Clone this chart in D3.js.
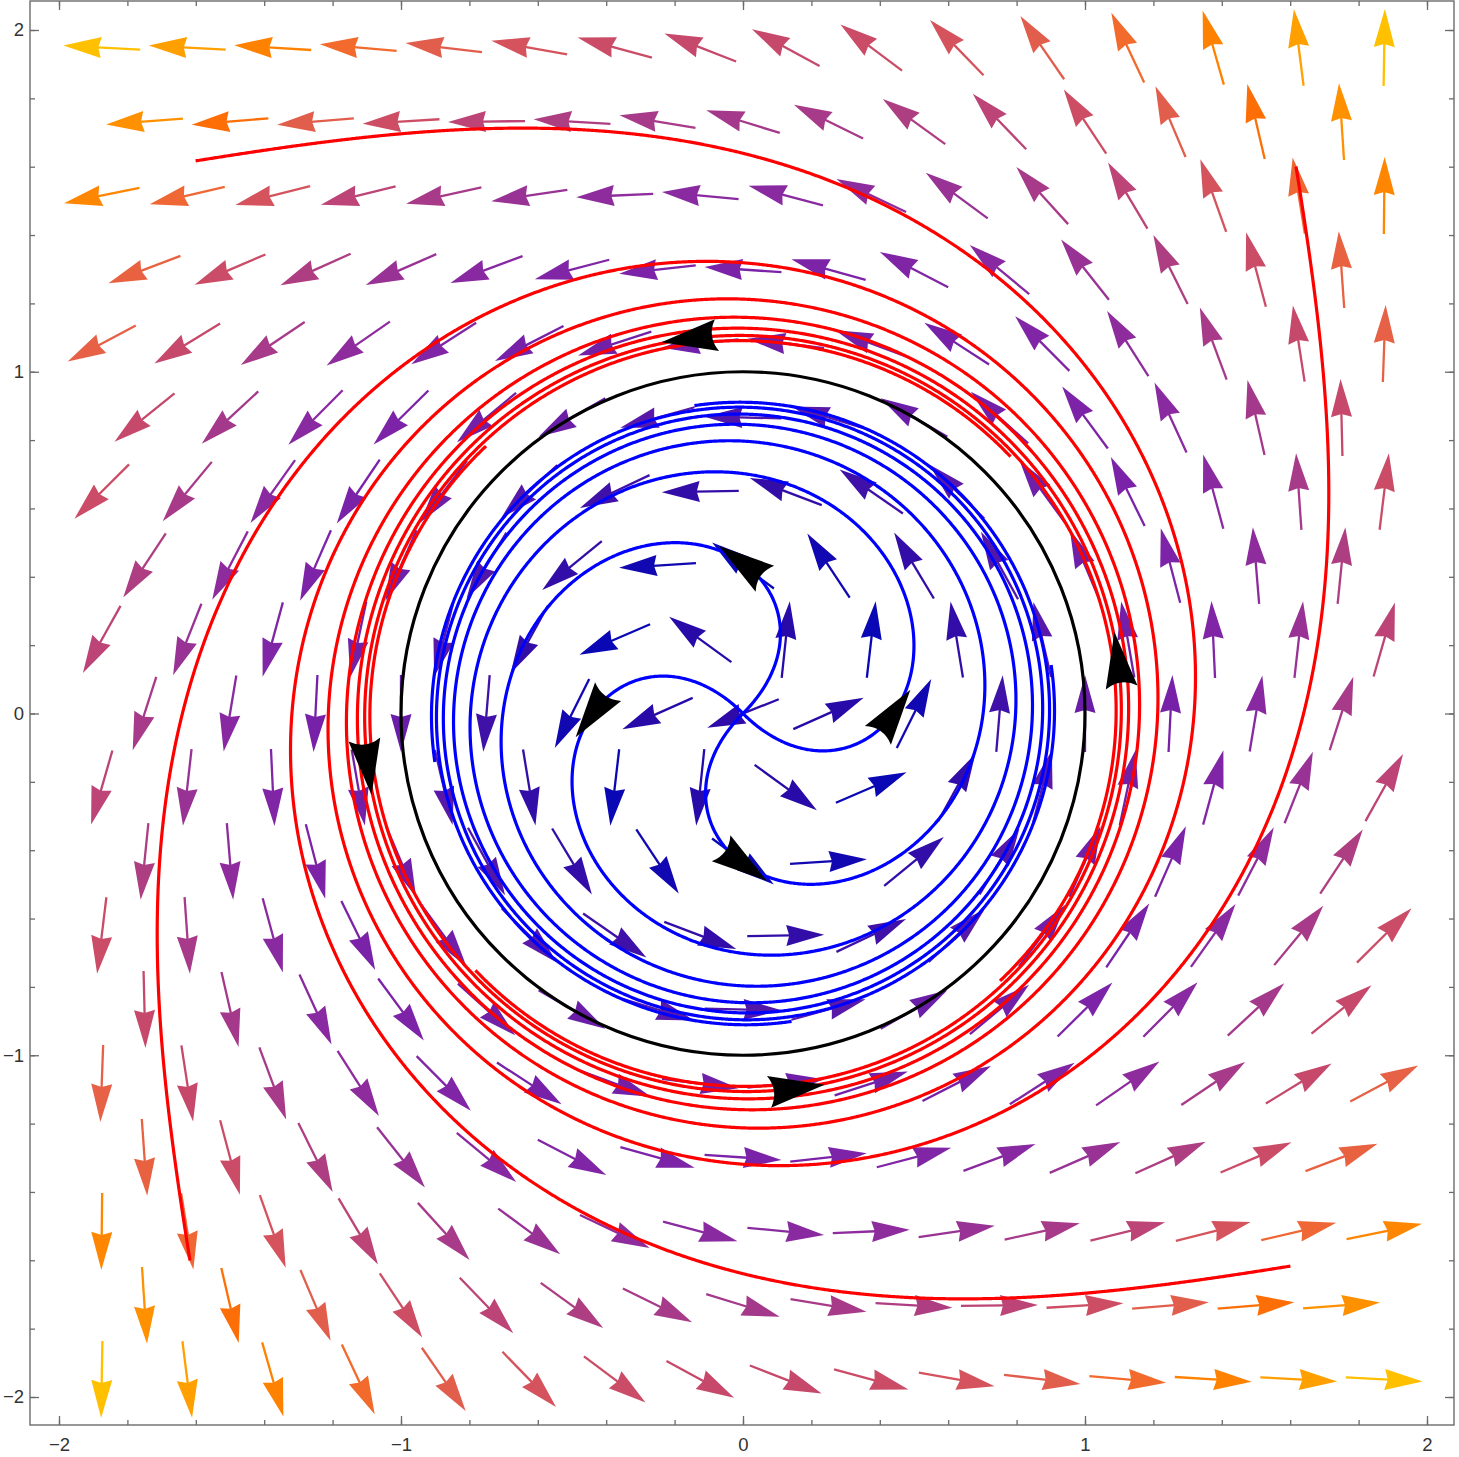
<!DOCTYPE html>
<html>
<head>
<meta charset="utf-8">
<script src="https://cdn.jsdelivr.net/npm/d3@7"></script>
<style>
  body { margin: 0; background: #fff; }
  svg { display: block; }
  .tick text { font-family: "Liberation Sans", Arial, sans-serif; font-size: 18.5px; fill: #333; }
</style>
</head>
<body>
<div id="chart"></div>
<script>
// axis ticks
const MAJOR_TICKS = [-2, -1, 0, 1, 2];
const MINOR_TICKS = [-2, -1.8, -1.6, -1.4, -1.2, -1, -0.8, -0.6, -0.4, -0.2, 0, 0.2, 0.4, 0.6, 0.8, 1, 1.2, 1.4, 1.6, 1.8, 2];

// hexagonal grid of the vector arrows (rows alternate between the two x lists)
const ROW_Y = [1.9486, 1.7321, 1.5155, 1.299, 1.0825, 0.866, 0.6495, 0.433, 0.2165, 0,
               -0.2165, -0.433, -0.6495, -0.866, -1.0825, -1.299, -1.5155, -1.7321, -1.9486];
const EVEN_ROW_X = [-1.875, -1.625, -1.375, -1.125, -0.875, -0.625, -0.375, -0.125,
                    0.125, 0.375, 0.625, 0.875, 1.125, 1.375, 1.625, 1.875];
const ODD_ROW_X = [-1.75, -1.5, -1.25, -1, -0.75, -0.5, -0.25, 0, 0.25, 0.5, 0.75, 1, 1.25, 1.5, 1.75];

// the system: r' = (1 - r)^2, theta' = 1 (semi-stable cycle at r = 1)
const RADIAL_POWER = 2;
const ANGULAR_RATE = 1;
const CYCLE_RADIUS = 1;
const ORIGIN_VECTOR = [-0.6, -0.24];   // arrow drawn at the singular point

// arrow colour by speed
const SPEED_STOPS = [0.54, 0.62, 1.0, 1.3, 1.55, 1.83, 2.17, 2.5, 2.74, 2.85, 3.1, 3.47, 3.97];
const SPEED_COLORS = ['#0a08b4', '#2a0aa8', '#6a1ea8', '#7a22a8', '#8a2aa0', '#a63a8a', '#c84a6a',
                      '#e25e4c', '#f26a2c', '#ff7000', '#ff8400', '#ffa000', '#ffc000'];

// stream lines: seed points and where each one stops (radius)
const BLUE_SEEDS = [[0, 0.44], [-0.44, 0], [0, -0.44], [0.44, 0]];
const BLUE_STOP = [0.004, 0.912];          // [backward, forward]
const RED_SEEDS = [[1.097, 0.1541], [-0.1541, 1.097], [-1.097, -0.1541], [0.1541, -1.097]];
const RED_STOP = [1.0848, 2.275];

const W = 1459, H = 1457;
const FRAME = {left: 30, right: 1454, top: 1, bottom: 1425};
const ARROW_LEN = 77, HEAD_LEN = 38, HEAD_HALF = 10.5, NOTCH = 3;

const x = d3.scaleLinear().domain([-2, 2]).range([59, 1427]);
const y = d3.scaleLinear().domain([-2, 2]).range([1397, 30]);
const color = d3.scaleLinear().domain(SPEED_STOPS).range(SPEED_COLORS).clamp(true);

function field(px, py) {
  const r = Math.hypot(px, py);
  if (r < 1e-9) return ORIGIN_VECTOR;
  const dr = Math.pow(1 - r, RADIAL_POWER);
  return [dr * px / r - ANGULAR_RATE * py, dr * py / r + ANGULAR_RATE * px];
}

// follow the field from a seed, one direction, until the radius test says stop
function trace(seed, sign, stop) {
  const ds = 0.004;
  let p = seed.slice();
  const pts = [];
  const dir = (q) => { const v = field(q[0], q[1]); const m = Math.hypot(v[0], v[1]); return [sign * v[0] / m, sign * v[1] / m]; };
  for (let i = 0; i < 20000; i++) {
    const k1 = dir(p);
    const k2 = dir([p[0] + ds / 2 * k1[0], p[1] + ds / 2 * k1[1]]);
    const k3 = dir([p[0] + ds / 2 * k2[0], p[1] + ds / 2 * k2[1]]);
    const k4 = dir([p[0] + ds * k3[0], p[1] + ds * k3[1]]);
    p = [p[0] + ds / 6 * (k1[0] + 2 * k2[0] + 2 * k3[0] + k4[0]),
         p[1] + ds / 6 * (k1[1] + 2 * k2[1] + 2 * k3[1] + k4[1])];
    pts.push(p);
    if (stop(Math.hypot(p[0], p[1]))) break;
  }
  return pts;
}

function streamline(seed, stops, fromOrigin) {
  const back = trace(seed, -1, r => r < stops[0]);
  const fwd = trace(seed, 1, r => r > stops[1]);
  const pts = back.reverse().concat([seed], fwd);
  if (fromOrigin) pts.unshift([0, 0]);
  return pts;
}

const svg = d3.select('#chart').append('svg').attr('width', W).attr('height', H);
svg.append('rect').attr('width', W).attr('height', H).attr('fill', '#fff');

// vector arrows
const arrows = [];
ROW_Y.forEach((ry, i) => {
  (i % 2 === 0 ? EVEN_ROW_X : ODD_ROW_X).forEach(rx => {
    const v = field(rx, ry);
    arrows.push({x: rx, y: ry, vx: v[0], vy: v[1], speed: Math.hypot(v[0], v[1])});
  });
});

const ga = svg.append('g').attr('class', 'arrows');
const arrow = ga.selectAll('g').data(arrows).enter().append('g')
  .attr('transform', d => {
    const ang = Math.atan2(-d.vy, d.vx) * 180 / Math.PI;
    return `translate(${x(d.x)},${y(d.y)}) rotate(${ang})`;
  });
arrow.append('line')
  .attr('x1', -ARROW_LEN / 2).attr('y1', 0)
  .attr('x2', ARROW_LEN / 2 - HEAD_LEN + NOTCH + 1).attr('y2', 0)
  .attr('stroke', d => color(d.speed)).attr('stroke-width', 2.3);
arrow.append('path')
  .attr('d', `M${ARROW_LEN / 2},0 L${ARROW_LEN / 2 - HEAD_LEN},${-HEAD_HALF} L${ARROW_LEN / 2 - HEAD_LEN + NOTCH},0 L${ARROW_LEN / 2 - HEAD_LEN},${HEAD_HALF} Z`)
  .attr('fill', d => color(d.speed));

// stream lines
const line = d3.line().x(d => x(d[0])).y(d => y(d[1]));
const gs = svg.append('g').attr('fill', 'none').attr('stroke-width', 3.2).attr('stroke-linejoin', 'round');
gs.selectAll('path.blue').data(BLUE_SEEDS.map(s => streamline(s, BLUE_STOP, true))).enter()
  .append('path').attr('class', 'blue').attr('d', line).attr('stroke', '#0000ff');
gs.selectAll('path.red').data(RED_SEEDS.map(s => streamline(s, RED_STOP, false))).enter()
  .append('path').attr('class', 'red').attr('d', line).attr('stroke', '#ff0000');

// limit cycle
gs.append('ellipse')
  .attr('cx', x(0)).attr('cy', y(0))
  .attr('rx', x(CYCLE_RADIUS) - x(0)).attr('ry', y(0) - y(CYCLE_RADIUS))
  .attr('stroke', '#000');

// black stream markers at the seeds
const L = 56, HW = 16;
svg.append('g').selectAll('path').data(BLUE_SEEDS.concat(RED_SEEDS)).enter().append('path')
  .attr('transform', d => {
    const v = field(d[0], d[1]);
    return `translate(${x(d[0])},${y(d[1])}) rotate(${Math.atan2(-v[1], v[0]) * 180 / Math.PI})`;
  })
  .attr('d', `M${0.52 * L},0 L${-0.48 * L},${-HW} Q${-0.3 * L},0 ${-0.48 * L},${HW} Z`)
  .attr('fill', '#000');

// frame and ticks
const frameColor = '#6b6b6b';
svg.append('rect')
  .attr('x', FRAME.left).attr('y', FRAME.top)
  .attr('width', FRAME.right - FRAME.left).attr('height', FRAME.bottom - FRAME.top)
  .attr('fill', 'none').attr('stroke', frameColor).attr('stroke-width', 1.4);

function addAxis(axis, tx, ty, values, size, labels, pad) {
  const g = svg.append('g').attr('transform', `translate(${tx},${ty})`)
    .call(axis.tickValues(values).tickSize(size).tickPadding(pad)
      .tickFormat(labels ? d3.format('d') : ''));
  g.select('.domain').remove();
  g.selectAll('.tick line').attr('stroke', frameColor).attr('stroke-width', 1.3);
  g.attr('font-family', null).attr('font-size', null);
}
addAxis(d3.axisLeft(y), FRAME.left, 0, MINOR_TICKS, -5, false, 0);
addAxis(d3.axisLeft(y), FRAME.left, 0, MAJOR_TICKS, -9, true, 6);
addAxis(d3.axisRight(y), FRAME.right, 0, MINOR_TICKS, -5, false, 0);
addAxis(d3.axisRight(y), FRAME.right, 0, MAJOR_TICKS, -9, false, 0);
addAxis(d3.axisBottom(x), 0, FRAME.bottom, MINOR_TICKS, -5, false, 0);
addAxis(d3.axisBottom(x), 0, FRAME.bottom, MAJOR_TICKS, -9, true, 13);
addAxis(d3.axisTop(x), 0, FRAME.top, MINOR_TICKS, -5, false, 0);
addAxis(d3.axisTop(x), 0, FRAME.top, MAJOR_TICKS, -9, false, 0);
</script>
</body>
</html>
